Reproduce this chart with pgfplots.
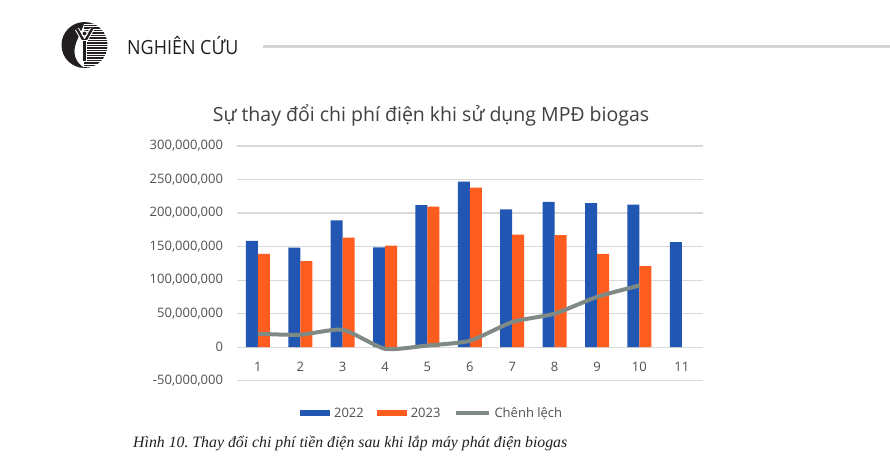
\documentclass[border=0pt]{standalone}
\usepackage{fontspec}
\setmainfont{Open Sans}
\newfontfamily\capfont{Liberation Serif}
\newfontfamily\hdrfont{Open Sans}[FakeStretch=0.92]
\usepackage{pgfplots}
\pgfplotsset{compat=1.18}
\definecolor{c22}{RGB}{33,87,178}
\definecolor{c23}{RGB}{255,92,32}
\definecolor{cdiff}{RGB}{128,138,133}
\definecolor{gridc}{RGB}{217,217,217}
\definecolor{labc}{RGB}{80,80,80}
\definecolor{titc}{RGB}{64,64,64}
\definecolor{dark}{RGB}{35,31,32}
\definecolor{hline}{RGB}{212,212,212}
\frenchspacing

\pgfplotstableread{
x  y2022      y2023     diff
1  158500000  139000000 20000000
2  148500000  128500000 18500000
3  189000000  163500000 26000000
4  149000000  151500000 -2500000
5  212000000  209500000 2500000
6  247000000  238000000 9500000
7  205500000  168000000 37500000
8  216500000  167000000 50000000
9  215000000  139000000 75000000
10 212500000  121000000 92000000
11 156500000  nan       nan
}\datatable

\begin{document}
\begin{tikzpicture}
\useasboundingbox (0,0) rectangle (890pt,467pt);
\fill[white] (0,0) rectangle (890pt,467pt);
\begin{scope}[shift={(0pt,467pt)}, x=1pt, y=-1pt]
  % logo
  \begin{scope}
    \clip (84.5,45) circle (23);
    \foreach \yy in {22.5,25,...,68} {\fill[dark] (84,\yy) rectangle (109,\yy+1.3);}
    \fill[dark] (84.5,22) .. controls (64,23) and (57,40) .. (61,55)
      .. controls (64,63) and (74,68) .. (84.5,68)
      .. controls (76,63) and (72,54) .. (76,43)
      .. controls (79,35) and (83,28) .. (84.5,22) -- cycle;
  \end{scope}
  \draw[white, line width=4.5pt] (77,29) -- (84.5,42) -- (92,29);
  \draw[dark, line width=2.4pt] (77,29) -- (84.5,42) -- (92,29);
  \filldraw[fill=dark, draw=white, line width=1pt] (82.3,41) rectangle (86.7,62);
  \filldraw[fill=dark, draw=white, line width=1pt] (84.5,33.5) circle (2.6);
  % header
  \node[anchor=base west, inner sep=0pt, text=dark, font=\hdrfont\fontsize{19.5}{20}\selectfont] at (127,54) {NGHIÊN CỨU};
  \draw[hline, line width=3pt] (263,47) -- (890,47);
  % title
  \node[anchor=base, inner sep=0pt, text=titc, font=\fontsize{19.5}{22}\selectfont] at (431,121) {Sự thay đổi chi phí điện khi sử dụng MPĐ biogas};
  % caption
  \node[anchor=base west, inner sep=0pt, text=dark, font=\capfont\itshape\fontsize{15.8}{18}\selectfont] at (133,447) {Hình 10. Thay đổi chi phí tiền điện sau khi lắp máy phát điện biogas};
\end{scope}

\begin{axis}[
  at={(236.7pt,86.3pt)}, anchor=south west,
  scale only axis, width=466.3pt, height=234.7pt,
  xmin=0.5, xmax=11.5,
  ymin=-50000000, ymax=300000000,
  scaled y ticks=false,
  xtick={1,...,11},
  xticklabels={1,2,3,4,5,6,7,8,9,10,11},
  ytick={-50000000,0,50000000,100000000,150000000,200000000,250000000,300000000},
  yticklabels={{-50,000,000},{0},{50,000,000},{100,000,000},{150,000,000},{200,000,000},{250,000,000},{300,000,000}},
  ymajorgrids,
  grid style={gridc, line width=1.2pt},
  axis line style={draw=none},
  tick style={draw=none},
  tick label style={text=labc, font=\fontsize{13}{15}\selectfont},
  yticklabel style={anchor=east, inner sep=0pt, xshift=-13.5pt},
  xticklabel style={anchor=center, inner sep=0pt, yshift=13.7pt},
  legend style={draw=none, fill=none, at={(0.419,-0.138)}, anchor=center,
    font=\fontsize{13}{15}\selectfont, text=labc,
    /tikz/every odd column/.append style={column sep=2pt},
    /tikz/every even column/.append style={column sep=11pt},
    nodes={inner sep=2pt}},
  legend columns=3,
]
\addplot[ybar, bar width=12pt, bar shift=-6pt, fill=c22, draw=none,
  legend image code/.code={\fill[c22] (0pt,-3.3pt) rectangle (30pt,3.3pt);}]
  table[x=x, y=y2022] {\datatable};
\addlegendentry{2022}
\addplot[ybar, bar width=12pt, bar shift=6pt, fill=c23, draw=none,
  legend image code/.code={\fill[c23] (0pt,-3.3pt) rectangle (30pt,3.3pt);}]
  table[x=x, y=y2023] {\datatable};
\addlegendentry{2023}
\addplot[smooth, tension=0.35, cdiff, line width=4pt,
  legend image code/.code={\draw[cdiff, line width=4pt] (0pt,0pt) -- (33pt,0pt);}]
  table[x=x, y=diff] {\datatable};
\addlegendentry{Chênh lệch}
\end{axis}
\end{tikzpicture}
\end{document}
